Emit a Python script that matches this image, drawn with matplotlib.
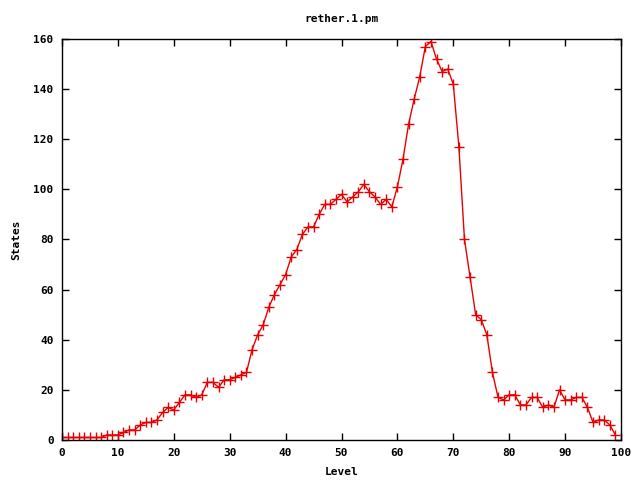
import matplotlib
matplotlib.use('Agg')
import matplotlib.pyplot as plt

# level -> number of states
levels = list(range(100))
states = [1, 1, 1, 1, 1, 1, 1, 1, 2, 2,
          2, 3, 4, 4, 6, 7, 7, 8, 11, 13,
          12, 15, 18, 18, 17, 18, 23, 23, 21, 24,
          24, 25, 26, 27, 36, 42, 46, 53, 58, 62,
          66, 73, 76, 82, 85, 85, 90, 94, 94, 96,
          98, 95, 97, 99, 102, 99, 97, 94, 96, 93,
          101, 112, 126, 136, 145, 157, 159, 152, 147, 148,
          142, 117, 80, 65, 50, 48, 42, 27, 17, 16,
          18, 18, 14, 14, 17, 17, 13, 14, 13, 20,
          16, 16, 17, 17, 13, 7, 8, 8, 6, 2]

plt.rcParams['font.family'] = 'DejaVu Sans Mono'
plt.rcParams['font.weight'] = 'bold'
plt.rcParams['font.size'] = 8

fig = plt.figure(figsize=(6.4, 4.8), dpi=100)
ax = fig.add_axes([62 / 640, 1 - 440 / 480, 559 / 640, 401 / 480])

ax.plot(levels, states, color='#e80000', linewidth=1, marker='+',
        markersize=6.5, markeredgewidth=1)

ax.set_xlim(0, 100)
ax.set_ylim(0, 160)
ax.set_xticks(range(0, 101, 10))
ax.set_yticks(range(0, 161, 20))
ax.tick_params(direction='in', length=5, width=1, top=True, right=True,
               labelsize=8, pad=6)
for s in ax.spines.values():
    s.set_linewidth(1)

ax.set_title('rether.1.pm', fontsize=8, fontweight='bold', pad=12)
ax.set_xlabel('Level', fontsize=8, fontweight='bold', labelpad=6)
ax.set_ylabel('States', fontsize=8, fontweight='bold', labelpad=9)

fig.savefig('out.png', dpi=100)
